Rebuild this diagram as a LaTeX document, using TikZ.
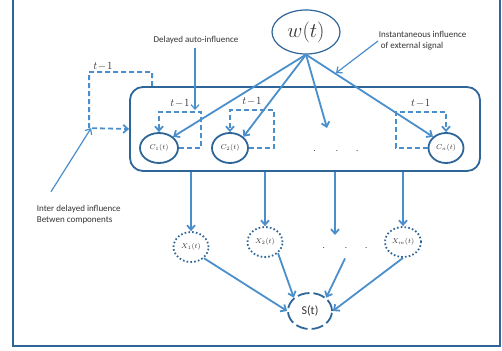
\documentclass[tikz,border=0pt]{standalone}
\usepackage{fontspec}
\newfontfamily\labelfont{Carlito}
\usetikzlibrary{arrows.meta,shapes.geometric}
\definecolor{LineBlue}{HTML}{4A8FCB}
\definecolor{EdgeBlue}{HTML}{2F6699}

\begin{document}
\begin{tikzpicture}[x=1pt, y=-1pt, -{Straight Barb[length=4.5pt,width=8pt]}, color=LineBlue, line width=1.8pt,
      every node/.append style={inner sep=0pt, text=black!80, font=\labelfont\fontsize{9}{11}\selectfont},
      loop/.style={dash pattern=on 5pt off 3pt},
      comp/.style={ellipse, draw=EdgeBlue, line width=1.8pt, minimum width=38pt, minimum height=30pt, font=\fontsize{7.5}{9}\selectfont},
      obs/.style={ellipse, draw=EdgeBlue, line width=1.8pt, dash pattern=on 1.6pt off 2.2pt, minimum width=35pt, minimum height=30pt, font=\fontsize{7.5}{9}\selectfont},
      lag/.style={font=\fontsize{10.5}{12}\selectfont}]
	  \useasboundingbox (0,0) rectangle (502,350);
	  \tikzstyle{note} = [align=left]
	  % frame
	  \draw[-, color=EdgeBlue, line width=2.5pt] (13,-5) -- (13,346) -- (500,346) -- (500,-5);
	  \node (w) [ellipse, draw=EdgeBlue, line width=1.2pt, minimum width=68pt, minimum height=44pt, font=\fontsize{21}{23}\selectfont] at (306,32) {$w(t)$};
	  \node (box) [draw=EdgeBlue, line width=1.8pt, rounded corners=13pt, minimum width=350pt, minimum height=84pt] at (305,129) {};
	  \node (c_1) [comp] at (159,148) {$C_1(t)$};
	  \node (c_2) [comp, minimum width=36pt] at (230,148) {$C_2(t)$};
	  \node (c_n) [comp, minimum width=35pt] at (446,148) {$C_n(t)$};
	  \node (cdots) at (336,151) {.\hspace{20pt}.\hspace{18pt}.};
	  \node (x_1) [obs] at (191,247) {$X_1(t)$};
	  \node (x_2) [obs] at (265,242) {$X_2(t)$};
	  \node (x_m) [obs, minimum width=36pt] at (403,242) {$X_m(t)$};
	  \node (xdots) at (345,248) {.\hspace{20pt}.\hspace{18pt}.};
	  \node (s) [ellipse, draw=EdgeBlue, line width=1.8pt, dash pattern=on 12pt off 4pt, minimum width=44pt, minimum height=36pt, font=\labelfont\fontsize{12}{14}\selectfont] at (310,311) {S(t)};
	  \node (delayed) at (196,40) {Delayed auto-influence};
	  \node (instant) [note, anchor=west] at (378,41) {Instantaneous influence\\ \hspace{2pt}of external signal};
	  \node (inter) [note, anchor=west] at (36,215) {Inter delayed influence\\Betwen components};
	  \coordinate (cmid) at (327,128);
	  \coordinate (xmid) at (335,235);
	  \coordinate (ext) at (336,73);
	  \coordinate (auto) at (195,110);
	  % delayed loops
	  \draw[loop] ([xshift=23pt]box.north west) -- ++(0,-14) -- ++(-63,0) -- ++(0,56) coordinate (corner) -- (box.west);
	  \draw[loop] (c_1.east) -- ++(22,0) -- ++(0,-36) -| node[pos=0.25, above=4pt, lag] {$t\!-\!1$} (c_1.north);
	  \draw[loop] (c_2.east) -- ++(25,0) -- ++(0,-38) -| node[pos=0.25, above=4pt, lag] {$t\!-\!1$} (c_2.north);
	  \draw[loop] (c_n.west) -- ++(-32,0) -- ++(0,-36) -| node[pos=0.25, above=4pt, lag] {$t\!-\!1$} (c_n.north);
	  \node at (103,66) [lag] {$t\!-\!1$};
	  % instantaneous influence
	  \draw (w.south) -- (c_1.north east);
	  \draw (w.south) -- (c_2.north east);
	  \draw (w.south) -- (cmid);
	  \draw (w.south) -- (c_n.north west);
	  % notes
	  \draw[line width=1.2pt] (delayed.south) ++(-1,3) -- (auto);
	  \draw[line width=1.2pt] (instant.west) -- (ext);
	  \draw[line width=1.2pt] ([xshift=15pt,yshift=13pt]inter.north west) -- ([xshift=2pt]corner);
	  % observations
	  \draw (box.south -| x_1.north) -- (x_1.north);
	  \draw (box.south -| x_2.north) -- (x_2.north);
	  \draw (box.south -| xmid) -- (xmid);
	  \draw (box.south -| x_m.north) -- (x_m.north);
	  \draw (x_1.south east) -- (s.west);
	  \draw (x_2.south east) -- (s.north west);
	  \draw ([yshift=-9pt]xdots.south) -- (s.north east);
	  \draw (x_m.south) -- (s.east);
\end{tikzpicture}
\end{document}
